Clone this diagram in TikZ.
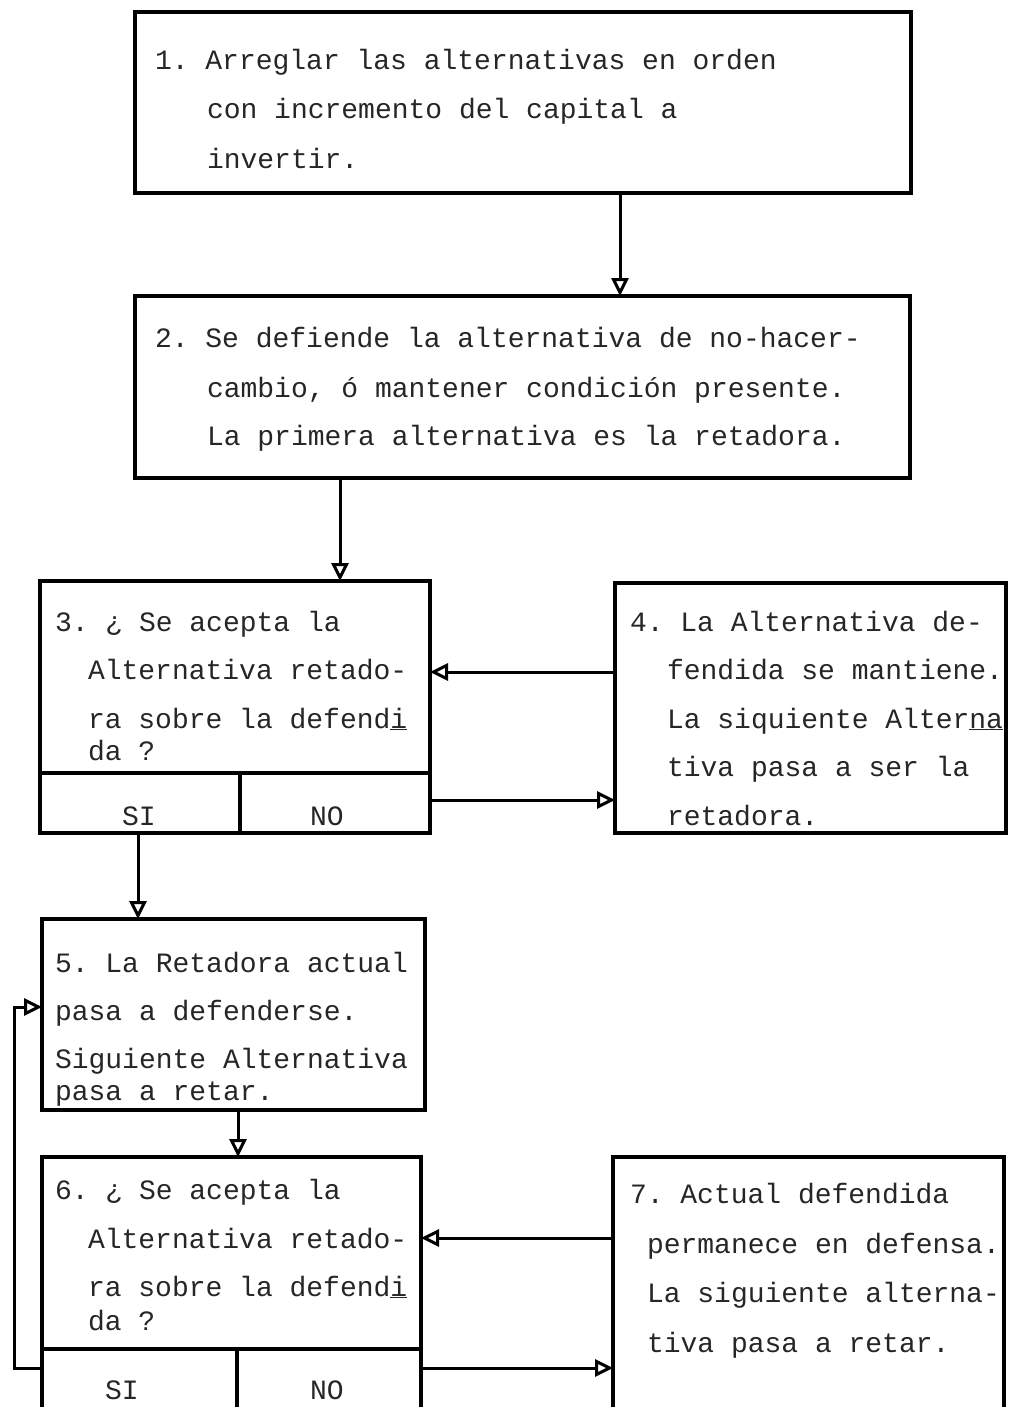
\documentclass[tikz,border=0pt]{standalone}
\usepackage{fontspec}
\newfontfamily\tw{Liberation Mono}
\usetikzlibrary{arrows.meta}
\begin{document}
\begin{tikzpicture}[x=1pt,y=-1pt,
  box/.style={draw, line width=3.4pt, inner sep=0pt, outer sep=0pt, anchor=north west},
  txt/.style={anchor=base west, inner sep=0pt, outer sep=0pt, text=black!85, font=\tw\frenchspacing\fontsize{28}{34}\selectfont},
  arr/.style={line width=3pt, -{Triangle[open, length=18pt, width=17pt, line width=3pt]}},
  ln/.style={line width=3.4pt}]
\useasboundingbox (0,0) rectangle (1009,1407);
\clip (0,0) rectangle (1009,1407);
\fill[white] (0,0) rectangle (1009,1407);

% boxes
\node[box, minimum width=776pt, minimum height=181pt] (b1) at (135,12) {};
\node[box, minimum width=775pt, minimum height=182pt] (b2) at (135,296) {};
\node[box, minimum width=390pt, minimum height=252pt] (b3) at (40,581) {};
\node[box, minimum width=391pt, minimum height=250pt] (b4) at (615,583) {};
\node[box, minimum width=383pt, minimum height=191pt] (b5) at (42,919) {};
\node[box, minimum width=379pt, minimum height=275pt] (b6) at (42,1157) {};
\node[box, minimum width=391pt, minimum height=275pt] (b7) at (613,1157) {};

% dividers
\draw[ln] (b3.west |- 0,773) -- (b3.east |- 0,773);
\draw[ln] (240,773) -- (b3.south -| 240,0);
\draw[ln] (b6.west |- 0,1349) -- (b6.east |- 0,1349);
\draw[ln] (237,1349) -- (b6.south -| 237,0);

% texts box 1
\node[txt] (t1a) at (155,70) {1. Arreglar las alternativas en orden};
\node[txt] (t1b) at (207,119) {con incremento del capital a};
\node[txt] (t1c) at (207,169) {invertir.};
% box 2
\node[txt] (t2a) at (155,347) {2. Se defiende la alternativa de no-hacer-};
\node[txt] (t2b) at (207,397) {cambio, ó mantener condición presente.};
\node[txt] (t2c) at (207,445) {La primera alternativa es la retadora.};
% box 3
\node[txt] (t3a) at (55,631) {3. ¿ Se acepta la};
\node[txt] (t3b) at (88,679) {Alternativa retado-};
\node[txt] (t3c) at (88,728) {ra sobre la defend\underline{i}};
\node[txt] (t3d) at (88,760) {da ?};
\node[txt] (t3si) at (122,825) {SI};
\node[txt] (t3no) at (310,825) {NO};
% box 4
\node[txt] (t4a) at (630,631) {4. La Alternativa de-};
\node[txt] (t4b) at (667,679) {fendida se mantiene.};
\node[txt] (t4c) at (667,728) {La siquiente Alter\underline{na}};
\node[txt] (t4d) at (667,776) {tiva pasa a ser la};
\node[txt] (t4e) at (667,825) {retadora.};
% box 5
\node[txt] (t5a) at (55,972) {5. La Retadora actual};
\node[txt] (t5b) at (55,1020) {pasa a defenderse.};
\node[txt] (t5c) at (55,1068) {Siguiente Alternativa};
\node[txt] (t5d) at (55,1100) {pasa a retar.};
% box 6
\node[txt] (t6a) at (55,1199) {6. ¿ Se acepta la};
\node[txt] (t6b) at (88,1248) {Alternativa retado-};
\node[txt] (t6c) at (88,1296) {ra sobre la defend\underline{i}};
\node[txt] (t6d) at (88,1330) {da ?};
\node[txt] (t6si) at (105,1399) {SI};
\node[txt] (t6no) at (310,1399) {NO};
% box 7
\node[txt] (t7a) at (630,1203) {7. Actual defendida};
\node[txt] (t7b) at (647,1253) {permanece en defensa.};
\node[txt] (t7c) at (647,1302) {La siguiente alterna-};
\node[txt] (t7d) at (647,1352) {tiva pasa a retar.};

% connectors
\coordinate (lp) at (14,0);
\draw[arr] (b1.south -| 620,0) -- (b2.north -| 620,0);
\draw[arr] (b2.south -| 340,0) -- (b3.north -| 340,0);
\draw[arr] (b4.west |- 0,672) -- (b3.east |- 0,672);
\draw[arr] (b3.east |- 0,800) -- (b4.west |- 0,800);
\draw[arr] (b3.south -| 138,0) -- (b5.north -| 138,0);
\draw[arr] (b5.south -| 238,0) -- (b6.north -| 238,0);
\draw[arr] (b7.west |- 0,1238) -- (b6.east |- 0,1238);
\draw[arr] (b6.east |- 0,1368) -- (b7.west |- 0,1368);
\draw[arr] (b6.west |- 0,1368) -| (lp |- 0,1007) -- (b5.west |- 0,1007);
\end{tikzpicture}
\end{document}
